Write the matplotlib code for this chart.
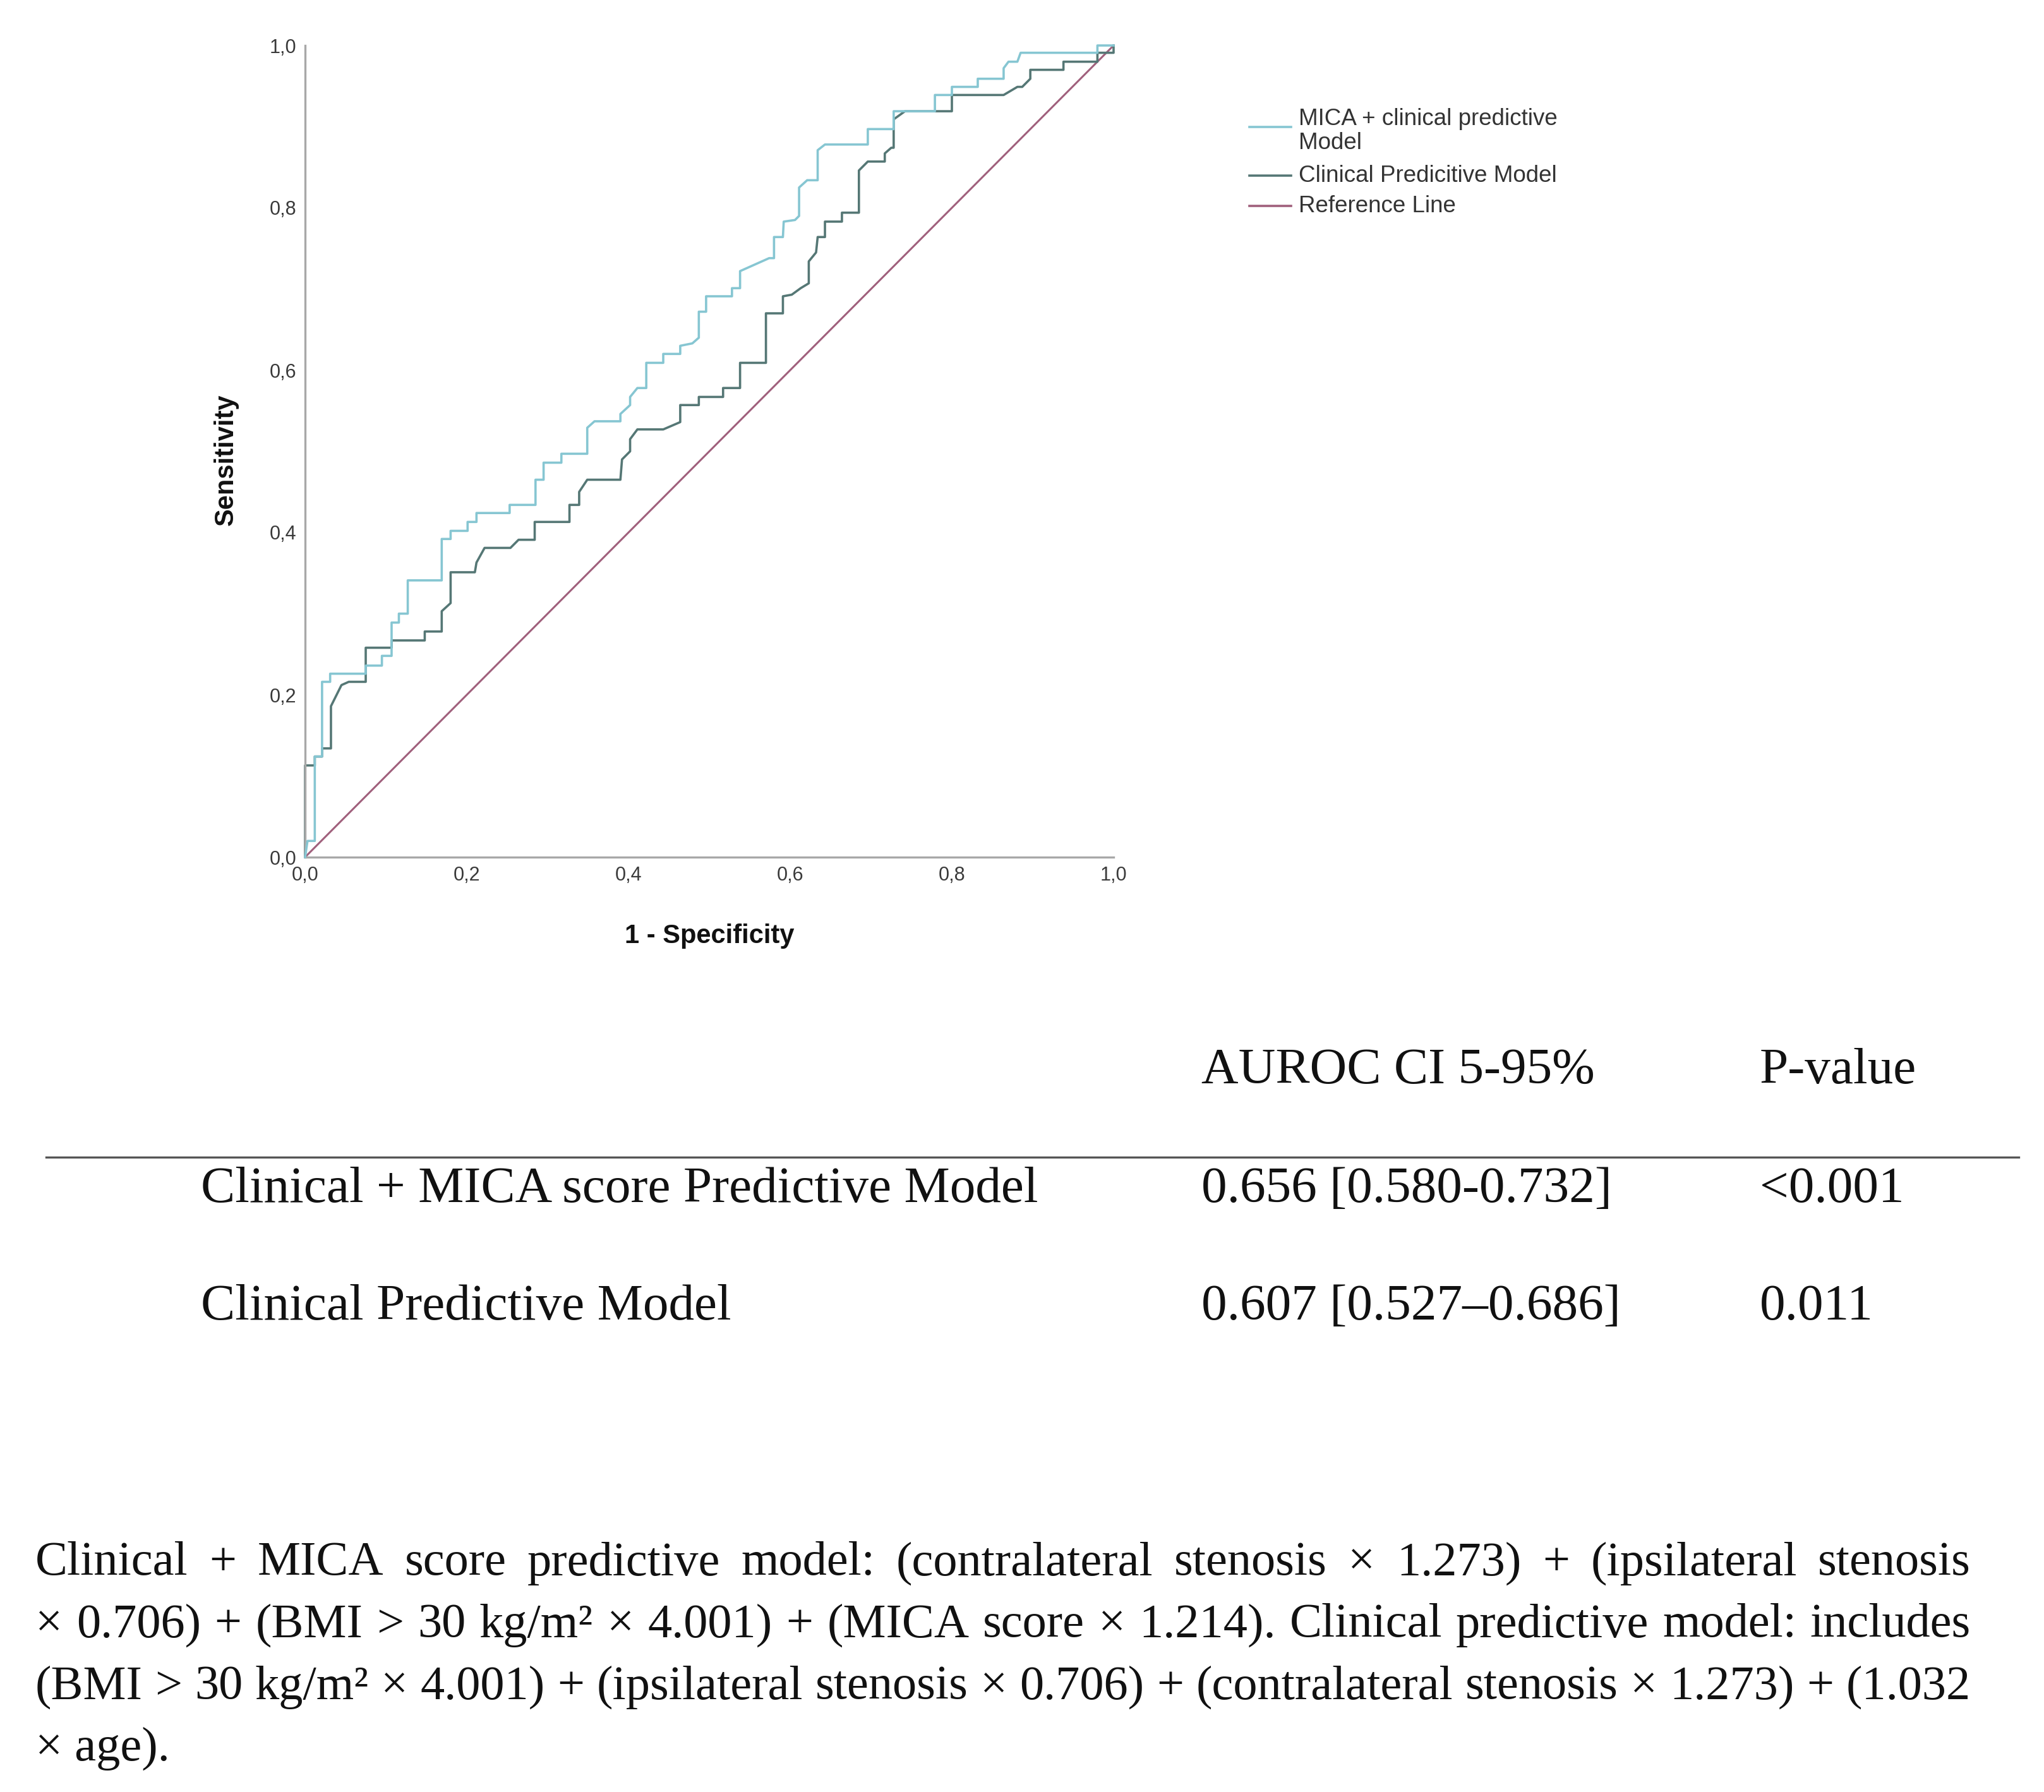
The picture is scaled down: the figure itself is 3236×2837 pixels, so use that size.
import matplotlib
matplotlib.use("Agg")
import matplotlib.pyplot as plt
from matplotlib.lines import Line2D

# ROC curve vertices (1 - specificity, sensitivity)
mica_points = [
    (0, 0), (0.003, 0.020), (0.012, 0.020), (0.012, 0.124), (0.021, 0.124),
    (0.021, 0.216), (0.031, 0.216), (0.031, 0.226), (0.075, 0.226), (0.075, 0.236),
    (0.095, 0.236), (0.095, 0.248), (0.107, 0.248), (0.107, 0.289), (0.116, 0.289),
    (0.116, 0.300), (0.127, 0.300), (0.127, 0.341), (0.169, 0.341), (0.169, 0.392),
    (0.180, 0.392), (0.180, 0.402), (0.201, 0.402), (0.201, 0.413), (0.212, 0.413),
    (0.212, 0.424), (0.253, 0.424), (0.253, 0.434), (0.285, 0.434), (0.285, 0.465),
    (0.295, 0.465), (0.295, 0.486), (0.317, 0.486), (0.317, 0.497), (0.349, 0.497),
    (0.349, 0.529), (0.358, 0.537), (0.390, 0.537), (0.390, 0.546), (0.402, 0.557),
    (0.402, 0.567), (0.411, 0.578), (0.422, 0.578), (0.422, 0.609), (0.443, 0.609),
    (0.443, 0.620), (0.464, 0.620), (0.464, 0.630), (0.479, 0.633), (0.487, 0.640),
    (0.487, 0.672), (0.496, 0.672), (0.496, 0.691), (0.528, 0.691), (0.528, 0.701),
    (0.538, 0.701), (0.538, 0.722), (0.574, 0.738), (0.580, 0.738), (0.580, 0.764),
    (0.591, 0.764), (0.592, 0.783), (0.606, 0.785), (0.611, 0.790), (0.611, 0.825),
    (0.621, 0.834), (0.634, 0.834), (0.634, 0.871), (0.643, 0.878), (0.696, 0.878),
    (0.696, 0.897), (0.728, 0.897), (0.728, 0.919), (0.779, 0.919), (0.779, 0.939),
    (0.800, 0.939), (0.800, 0.949), (0.832, 0.949), (0.832, 0.959), (0.864, 0.959),
    (0.864, 0.972), (0.870, 0.980), (0.881, 0.980), (0.885, 0.991), (0.980, 0.991),
    (0.980, 1.0), (1.0, 1.0),
]

clinical_points = [
    (0, 0), (0, 0.113), (0.012, 0.113), (0.012, 0.124), (0.021, 0.124),
    (0.021, 0.134), (0.032, 0.134), (0.032, 0.186), (0.045, 0.212), (0.054, 0.216),
    (0.075, 0.216), (0.075, 0.258), (0.107, 0.258), (0.107, 0.267), (0.148, 0.267),
    (0.148, 0.278), (0.169, 0.278), (0.169, 0.303), (0.180, 0.313), (0.180, 0.351),
    (0.210, 0.351), (0.212, 0.363), (0.222, 0.381), (0.254, 0.381), (0.264, 0.391),
    (0.284, 0.391), (0.284, 0.413), (0.327, 0.413), (0.327, 0.434), (0.339, 0.434),
    (0.339, 0.450), (0.349, 0.465), (0.390, 0.465), (0.392, 0.490), (0.402, 0.500),
    (0.402, 0.515), (0.411, 0.527), (0.443, 0.527), (0.464, 0.536), (0.464, 0.557),
    (0.487, 0.557), (0.487, 0.567), (0.517, 0.567), (0.517, 0.578), (0.538, 0.578),
    (0.538, 0.609), (0.570, 0.609), (0.570, 0.670), (0.591, 0.670), (0.591, 0.691),
    (0.602, 0.693), (0.613, 0.701), (0.623, 0.707), (0.623, 0.734), (0.632, 0.745),
    (0.634, 0.764), (0.643, 0.764), (0.643, 0.783), (0.664, 0.783), (0.664, 0.794),
    (0.685, 0.794), (0.685, 0.846), (0.696, 0.857), (0.717, 0.857), (0.717, 0.867),
    (0.725, 0.874), (0.728, 0.874), (0.728, 0.909), (0.742, 0.919), (0.800, 0.919),
    (0.800, 0.939), (0.864, 0.939), (0.881, 0.949), (0.887, 0.949), (0.897, 0.959),
    (0.897, 0.970), (0.938, 0.970), (0.938, 0.980), (0.980, 0.980), (0.980, 0.991),
    (1.0, 0.991), (1.0, 1.0),
]

reference_line = [0, 1]

tick_values = [0, 0.2, 0.4, 0.6, 0.8, 1.0]
tick_labels = ["0,0", "0,2", "0,4", "0,6", "0,8", "1,0"]

legend_labels = ["MICA + clinical predictive\nModel", "Clinical Predicitive Model", "Reference Line"]

table_header = ["AUROC CI 5-95%", "P-value"]
table_models = ["Clinical + MICA score Predictive Model", "Clinical Predictive Model"]
table_auroc = ["0.656 [0.580-0.732]", "0.607 [0.527\u20130.686]"]
table_pvalue = ["<0.001", "0.011"]

caption_lines = [
    "Clinical + MICA score predictive model: (contralateral stenosis \u00d7 1.273) + (ipsilateral stenosis",
    "\u00d7 0.706) + (BMI > 30 kg/m\u00b2 \u00d7 4.001) + (MICA score \u00d7 1.214). Clinical predictive model: includes",
    "(BMI > 30 kg/m\u00b2 \u00d7 4.001) + (ipsilateral stenosis \u00d7 0.706) + (contralateral stenosis \u00d7 1.273) + (1.032",
    "\u00d7 age).",
]

col_mica = "#86c6d2"
col_clin = "#557775"
col_ref = "#a0607c"

W, H = 3237, 2837
fig = plt.figure(figsize=(W / 100, H / 100), dpi=100)
fig.patch.set_facecolor("white")

ax = fig.add_axes([483 / W, 1 - 1357 / H, 1280 / W, 1285 / H])
mx = [p[0] for p in mica_points]
my = [p[1] for p in mica_points]
cx = [p[0] for p in clinical_points]
cy = [p[1] for p in clinical_points]
ax.plot(mx, my, color=col_mica, lw=2.6, clip_on=False, zorder=3)
ax.plot(cx, cy, color=col_clin, lw=2.6, clip_on=False, zorder=2)
ax.plot(reference_line, reference_line, color=col_ref, lw=2.2, clip_on=False, zorder=1)

ax.set_xlim(0, 1)
ax.set_ylim(0, 1)
for s in ["top", "right"]:
    ax.spines[s].set_visible(False)
for s in ["left", "bottom"]:
    ax.spines[s].set_color("#a8a8a8")
    ax.spines[s].set_linewidth(2.4)
ax.set_xticks(tick_values)
ax.set_xticklabels(tick_labels)
ax.set_yticks(tick_values)
ax.set_yticklabels(tick_labels)
ax.tick_params(length=0, labelsize=22, labelcolor="#3a3a3a", pad=10)
for lab in ax.get_xticklabels() + ax.get_yticklabels():
    lab.set_family("Liberation Sans")

ax.set_xlabel("1 - Specificity", fontsize=30, fontweight="bold", family="Liberation Sans", color="#111111")
ax.set_ylabel("Sensitivity", fontsize=30, fontweight="bold", family="Liberation Sans", color="#111111")
ax.xaxis.set_label_coords(0.5, -0.082)
ax.yaxis.set_label_coords(-0.082, 0.49)

# legend drawn by hand to follow the original placement
leg_x0, leg_x1, leg_tx = 1978, 2044, 2056
handle_y = [201, 278, 326]
text_y = [[189, 226], [278], [326]]
for col, hy, lines_y, lab in zip([col_mica, col_clin, col_ref], handle_y, text_y, legend_labels):
    fig.add_artist(Line2D([leg_x0 / W, leg_x1 / W], [1 - hy / H, 1 - hy / H], color=col, lw=2.6))
    for ty, part in zip(lines_y, lab.split("\n")):
        fig.text(leg_tx / W, 1 - ty / H, part, fontsize=26.5, family="Liberation Sans",
                 color="#333333", va="center", ha="left")

# table under the chart
tfont = dict(fontsize=58.5, family="Liberation Serif", color="#111111", va="center", ha="left")
fig.text(1902 / W, 1 - 1695 / H, table_header[0], **tfont)
fig.text(2786 / W, 1 - 1695 / H, table_header[1], **tfont)
fig.add_artist(Line2D([73 / W, 3196 / W], [1 - 1832 / H, 1 - 1832 / H], color="#555555", lw=2.4))
for ry, name, auc, pv in zip([1884, 2069], table_models, table_auroc, table_pvalue):
    fig.text(318 / W, 1 - ry / H, name, **tfont)
    fig.text(1902 / W, 1 - ry / H, auc, **tfont)
    fig.text(2786 / W, 1 - ry / H, pv, **tfont)

# justified caption
renderer = fig.canvas.get_renderer()
cfont = dict(fontsize=55, family="Liberation Serif", color="#111111", va="center", ha="left")
cap_left, cap_right = 56, 3120
cap_y = [2475, 2573, 2671, 2768]
for i, (line, ly) in enumerate(zip(caption_lines, cap_y)):
    words = line.split(" ")
    if i == len(caption_lines) - 1:
        fig.text(cap_left / W, 1 - ly / H, line, **cfont)
        continue
    widths = []
    for w in words:
        t = fig.text(0, 0, w, **cfont)
        widths.append(t.get_window_extent(renderer).width)
        t.remove()
    gap = (cap_right - cap_left - sum(widths)) / (len(words) - 1)
    x = cap_left
    for w, wd in zip(words, widths):
        fig.text(x / W, 1 - ly / H, w, **cfont)
        x += wd + gap

fig.savefig("out.png", dpi=100, facecolor="white")
